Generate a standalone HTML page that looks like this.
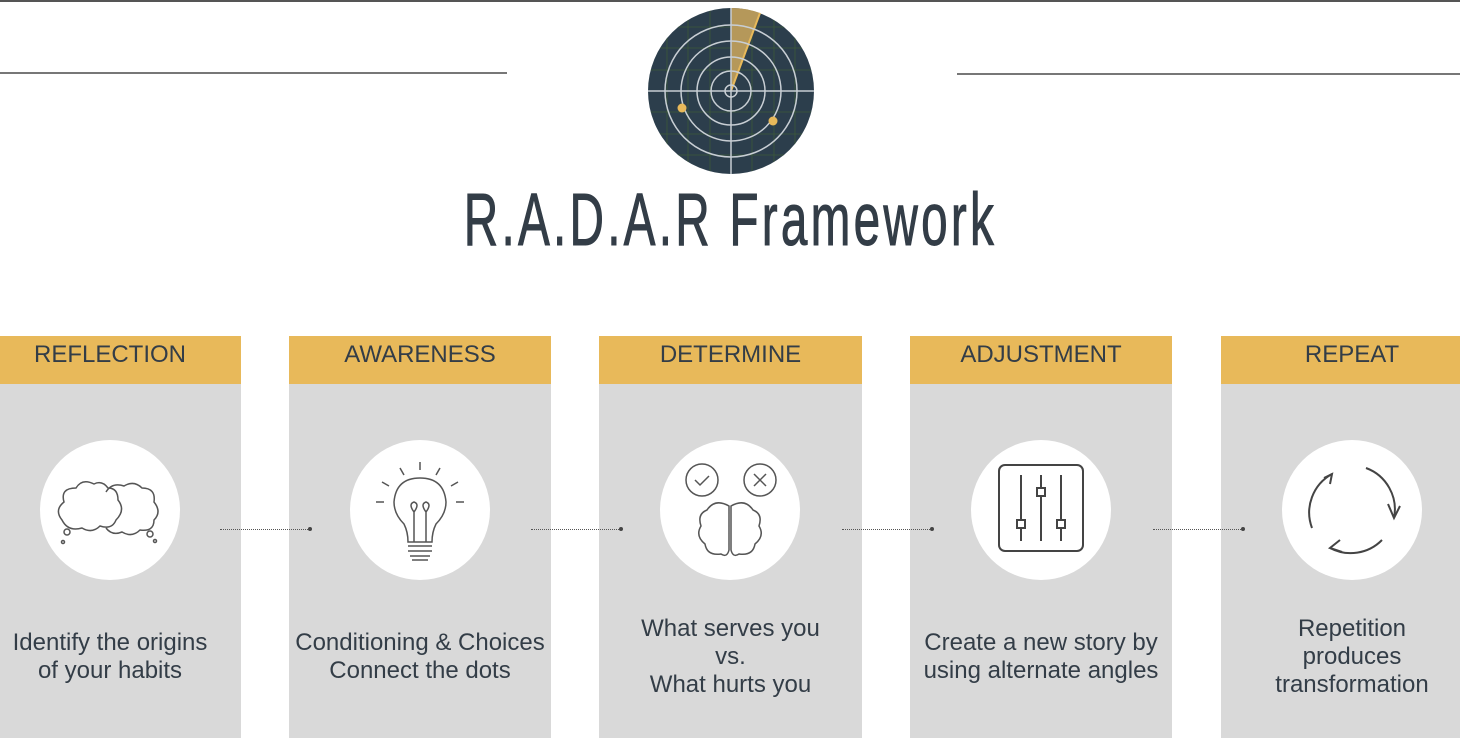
<!DOCTYPE html>
<html><head><meta charset="utf-8"><style>
body{margin:0;width:1460px;height:752px;background:#fff;position:relative;overflow:hidden;font-family:"Liberation Sans",sans-serif;}
.p{position:absolute;top:336px;height:402px;width:262px;background:#d9d9d9;}
.h{height:48px;background:#e8b95a;color:#333d47;font-size:24px;text-align:center;line-height:38px;}
.c{position:absolute;top:104px;left:61px;width:140px;height:140px;border-radius:50%;background:#fff;}
.t{position:absolute;left:0;right:0;text-align:center;color:#333d47;font-size:24px;line-height:28px;}
.ln{position:absolute;height:2px;background:#777;}
.ar{position:absolute;top:529px;height:0;border-top:1px dotted #555;}
.ar:after{content:"";position:absolute;right:-2px;top:-3px;width:4px;height:4px;border-radius:50%;background:#444;}
</style></head><body>
<div style="position:absolute;left:0;top:0;width:1460px;height:2px;background:#555"></div>
<div class="ln" style="left:0;width:507px;top:72px"></div>
<div class="ln" style="left:957px;width:503px;top:73px"></div>
<svg style="position:absolute;left:648px;top:8px" width="166" height="166" viewBox="-83 -83 166 166">
<defs><clipPath id="cc"><circle r="83"/></clipPath></defs>
<circle r="83" fill="#2c3e4c"/>
<g stroke="#3d5a3a" stroke-width="0.8" clip-path="url(#cc)">
<line x1="-83" y1="-64" x2="83" y2="-64"/><line x1="-83" y1="-43" x2="83" y2="-43"/><line x1="-83" y1="-21" x2="83" y2="-21"/><line x1="-83" y1="21" x2="83" y2="21"/><line x1="-83" y1="43" x2="83" y2="43"/><line x1="-83" y1="64" x2="83" y2="64"/>
<line y1="-83" x1="-64" y2="83" x2="-64"/><line y1="-83" x1="-43" y2="83" x2="-43"/><line y1="-83" x1="-21" y2="83" x2="-21"/><line y1="-83" x1="21" y2="83" x2="21"/><line y1="-83" x1="43" y2="83" x2="43"/><line y1="-83" x1="64" y2="83" x2="64"/>
</g>
<path d="M0 0 L0 -83 A83 83 0 0 1 29 -78 Z" fill="#b5985a"/>
<line x1="0" y1="0" x2="29" y2="-78" stroke="#e8b95a" stroke-width="2"/>
<g fill="none" stroke="#c8ced4" stroke-width="1.5" clip-path="url(#cc)">
<circle r="6"/><circle r="20"/><circle r="34"/><circle r="50"/><circle r="66"/>
<line x1="-83" y1="0" x2="83" y2="0"/><line x1="0" y1="-83" x2="0" y2="83"/></g>
<circle cx="-49" cy="17" r="4.5" fill="#e8b95a"/><circle cx="42" cy="30" r="4.5" fill="#e8b95a"/>
</svg>
<div style="position:absolute;left:0;width:1460px;top:178px;text-align:center;font-size:74px;color:#333d47;line-height:84px;"><span style="display:inline-block;transform:scaleX(0.645);letter-spacing:5px;-webkit-text-stroke:1px #333d47;">R.A.D.A.R Framework</span></div>

<div class="p" style="left:-21px"><div class="h">REFLECTION</div>
<div class="c"><svg width="140" height="140" fill="none" stroke="#555" stroke-width="1.5"><path d="M22 80 q-8-10 2-18 q-4-14 12-14 q6-10 18-4 q8-4 14 4 q10 0 10 12 q8 10 -2 20 q-4 10-16 6 q-8 8-18 2 q-14 4-20-8z"/><path d="M66 52 q6-10 18-6 q10-6 18 2 q14 0 12 14 q8 10 0 18 q0 12-14 10 q-8 8-18 2 q-10 4-16-4"/><circle cx="27" cy="92" r="3"/><circle cx="23" cy="102" r="1.5"/><circle cx="110" cy="94" r="3"/><circle cx="115" cy="101" r="1.5"/></svg></div>
<div class="t" style="top:293px">Identify the origins<br>of your habits</div></div>

<div class="p" style="left:289px"><div class="h">AWARENESS</div>
<div class="c"><svg width="140" height="140" fill="none" stroke="#555" stroke-width="1.5"><path d="M70 38 q-24 0-26 24 q0 12 10 22 q4 8 4 18 h24 q0-10 4-18 q10-10 10-22 q-2-24-26-24z"/><path d="M64 102 v-30 M76 102 v-30 M64 72 q-6-8 0-10 q6 2 0 10 M76 72 q6-8 0-10 q-6 2 0 10"/><path d="M58 106 h24 M58 111 h24 M60 116 h20 M62 120 h16"/><path d="M70 22 v8 M50 28 l4 7 M90 28 l-4 7 M32 42 l7 4 M108 42 l-7 4 M26 62 h8 M106 62 h8"/></svg></div>
<div class="t" style="top:293px">Conditioning &amp; Choices<br>Connect the dots</div></div>

<div class="p" style="left:599px;width:263px"><div class="h">DETERMINE</div>
<div class="c"><svg width="140" height="140" fill="none" stroke="#555" stroke-width="1.5"><circle cx="42" cy="40" r="16"/><path d="M35 40 l5 5 l9-9"/><circle cx="100" cy="40" r="16"/><path d="M94 34 l12 12 M106 34 l-12 12"/><path d="M69 66 q-14-8-22 4 q-10 4-6 16 q-6 10 4 18 q2 12 16 10 q6 4 8-4z M71 66 q14-8 22 4 q10 4 6 16 q6 10-4 18 q-2 12-16 10 q-6 4-8-4z"/></svg></div>
<div class="t" style="top:279px">What serves you<br>vs.<br>What hurts you</div></div>

<div class="p" style="left:910px"><div class="h">ADJUSTMENT</div>
<div class="c"><svg width="140" height="140" fill="none" stroke="#444" stroke-width="2"><rect x="28" y="25" width="84" height="86" rx="6"/><path d="M50 35 v66 M70 35 v66 M90 35 v66"/><rect x="46" y="80" width="8" height="8" fill="#fff"/><rect x="66" y="48" width="8" height="8" fill="#fff"/><rect x="86" y="80" width="8" height="8" fill="#fff"/></svg></div>
<div class="t" style="top:293px">Create a new story by<br>using alternate angles</div></div>

<div class="p" style="left:1221px"><div class="h">REPEAT</div>
<div class="c"><svg width="140" height="140" fill="none" stroke="#444" stroke-width="2"><path d="M84 28 a44 44 0 0 1 28 50"/><path d="M106 64 l6 14 l6-12" /><path d="M100 100 a44 44 0 0 1 -52 8"/><path d="M58 100 l-10 8 l12 4"/><path d="M30 88 a44 44 0 0 1 20-54"/><path d="M42 38 l8-4 l-2 10"/></svg></div>
<div class="t" style="top:279px">Repetition<br>produces<br>transformation</div></div>

<div class="ar" style="left:220px;width:90px"></div>
<div class="ar" style="left:531px;width:90px"></div>
<div class="ar" style="left:842px;width:90px"></div>
<div class="ar" style="left:1153px;width:90px"></div>
</body></html>
